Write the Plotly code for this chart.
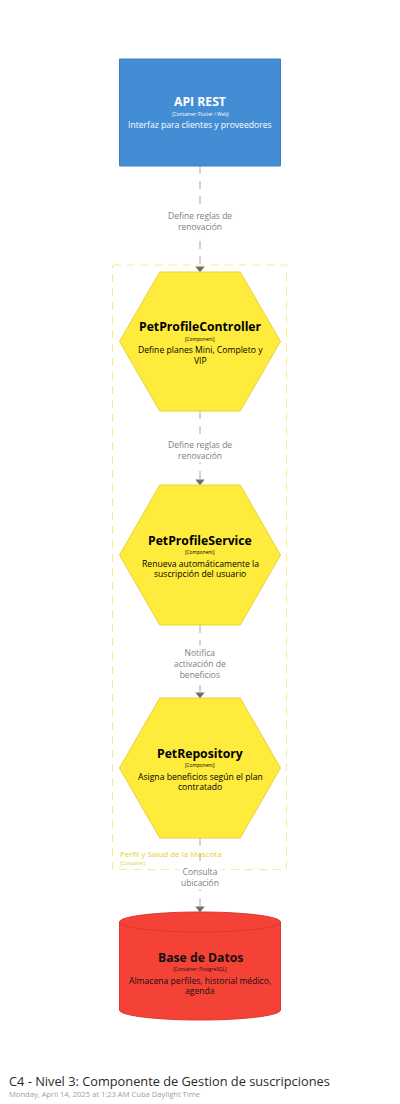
import numpy as np
import plotly.graph_objects as go

# ---- diagram content ----
node_names = ["API REST", "PetProfileController", "PetProfileService", "PetRepository", "Base de Datos"]
node_types = ["[Container: Flutter / Web]", "[Component]", "[Component]", "[Component]", "[Container: PostgreSQL]"]
node_descs = [
    ["Interfaz para clientes y proveedores"],
    ["Define planes Mini, Completo y", "VIP"],
    ["Renueva automáticamente la", "suscripción del usuario"],
    ["Asigna beneficios según el plan", "contratado"],
    ["Almacena perfiles, historial médico,", "agenda"],
]
node_shapes = ["box", "hex", "hex", "hex", "db"]
rel_labels = [
    ["Define reglas de", "renovación"],
    ["Define reglas de", "renovación"],
    ["Notifica", "activación de", "beneficios"],
    ["Consulta", "ubicación"],
]
boundary_name = "Perfil y Salud de la Mascota"
boundary_type = "[Container]"
title = "C4 - Nivel 3: Componente de Gestion de suscripciones"
subtitle = "Monday, April 14, 2025 at 1:23 AM Cuba Daylight Time"

# ---- layout ----
W, H = 400, 1104
OFF = 8  # page body margin in the browser
CX = 200
HALF_W = 80.5
node_top = [59, 272, 485, 698, 912]
node_bot = [166, 411, 625, 838, 1020]
fills = {"box": "#438DD5", "hex": "#FFEB3B", "db": "#F44336"}
lines = {"box": "#3C7FC0", "hex": "#E6D335", "db": "#D9392E"}
text_col = {"box": "white", "hex": "black", "db": "#111111"}
FONT = "Open Sans"

fig = go.Figure()
shapes = []
ann = []


def txt(x, y, s, size, color, bold=False, xanchor="center", **kw):
    if bold:
        s = "<b>" + s + "</b>"
    ann.append(dict(x=x, y=y, xref="x", yref="y", text=s, showarrow=False,
                    xanchor=xanchor, yanchor="middle",
                    font=dict(family=FONT, size=size, color=color), **kw))


# container boundary
shapes.append(dict(type="rect", xref="x", yref="y", x0=112.5, x1=286.5, y0=265, y1=869.5,
                   line=dict(color="#F7EC8C", width=1, dash="8px,6px"), fillcolor="rgba(0,0,0,0)", layer="below"))
txt(118, 853, boundary_name, 8, "#E3CF2E", xanchor="left")
txt(118, 862.5, boundary_type, 4.8, "#E3CF2E", xanchor="left")

# relationships
for i, lab in enumerate(rel_labels):
    y0 = node_bot[i]
    y1 = node_top[i + 1]
    shapes.append(dict(type="line", xref="x", yref="y", x0=CX, x1=CX, y0=y0, y1=y1 - 6,
                       line=dict(color="#A8A8A8", width=1, dash="8px,7px")))
    fig.add_trace(go.Scatter(x=[CX], y=[y1 - 3.5], mode="markers", hoverinfo="skip",
                             marker=dict(symbol="triangle-down", size=8, color="#6E6E6E")))
    mid = (y0 + y1) / 2 + 1.5
    ann.append(dict(x=CX, y=mid, xref="x", yref="y", text="<br>".join(lab), showarrow=False,
                    xanchor="center", yanchor="middle", bgcolor="white", borderpad=1,
                    font=dict(family=FONT, size=8.5, color="#808080")))

# nodes
for i, name in enumerate(node_names):
    kind = node_shapes[i]
    top, bot = node_top[i], node_bot[i]
    cy = (top + bot) / 2
    if kind == "box":
        shapes.append(dict(type="rect", xref="x", yref="y", x0=CX - HALF_W, x1=CX + HALF_W, y0=top, y1=bot,
                           fillcolor=fills[kind], line=dict(color=lines[kind], width=1)))
        y_name = cy - 11
    elif kind == "hex":
        hh = (bot - top) / 2
        pts = [(CX - HALF_W, cy), (CX - HALF_W / 2, cy - hh), (CX + HALF_W / 2, cy - hh),
               (CX + HALF_W, cy), (CX + HALF_W / 2, cy + hh), (CX - HALF_W / 2, cy + hh)]
        path = "M " + " L ".join(f"{x},{y}" for x, y in pts) + " Z"
        shapes.append(dict(type="path", xref="x", yref="y", path=path,
                           fillcolor=fills[kind], line=dict(color=lines[kind], width=1)))
        y_name = cy - 15
    else:
        ry = 10
        t = np.linspace(np.pi, 2 * np.pi, 40)
        top_c, bot_c = top + ry, bot - ry
        upper = [(CX + HALF_W * np.cos(a), top_c + ry * np.sin(a)) for a in t]
        lower = [(CX + HALF_W * np.cos(a), bot_c - ry * np.sin(a)) for a in t[::-1]]
        path = "M " + " L ".join(f"{x:.2f},{y:.2f}" for x, y in upper + lower) + " Z"
        shapes.append(dict(type="path", xref="x", yref="y", path=path,
                           fillcolor=fills[kind], line=dict(color=lines[kind], width=1)))
        inner = [(CX + HALF_W * np.cos(a), top_c - ry * np.sin(a)) for a in t]
        shapes.append(dict(type="path", xref="x", yref="y",
                           path="M " + " L ".join(f"{x:.2f},{y:.2f}" for x, y in inner),
                           line=dict(color=lines[kind], width=1)))
        y_name = cy - 9
    col = text_col[kind]
    txt(CX, y_name, name, 12.2, col, bold=True)
    txt(CX, y_name + 12, node_types[i], 4.8, col)
    for k, d in enumerate(node_descs[i]):
        txt(CX, y_name + 23.5 + k * 10.5, d, 8.6, col)

# title block (anchored at the left edge of the range, nudged 1px left)
txt(OFF, 1081, title, 12.8, "#2A2A2A", xanchor="left", xshift=-1)
txt(OFF, 1093.5, subtitle, 7.6, "#A0A0A0", xanchor="left", xshift=-1)

fig.update_layout(
    width=W - OFF, height=H - OFF,
    margin=dict(l=0, r=0, t=0, b=0),
    paper_bgcolor="white", plot_bgcolor="white",
    showlegend=False,
    xaxis=dict(range=[OFF, W], visible=False, fixedrange=True),
    yaxis=dict(range=[H, OFF], visible=False, fixedrange=True),
    shapes=shapes,
    annotations=ann,
)

fig.write_html("out.html")
